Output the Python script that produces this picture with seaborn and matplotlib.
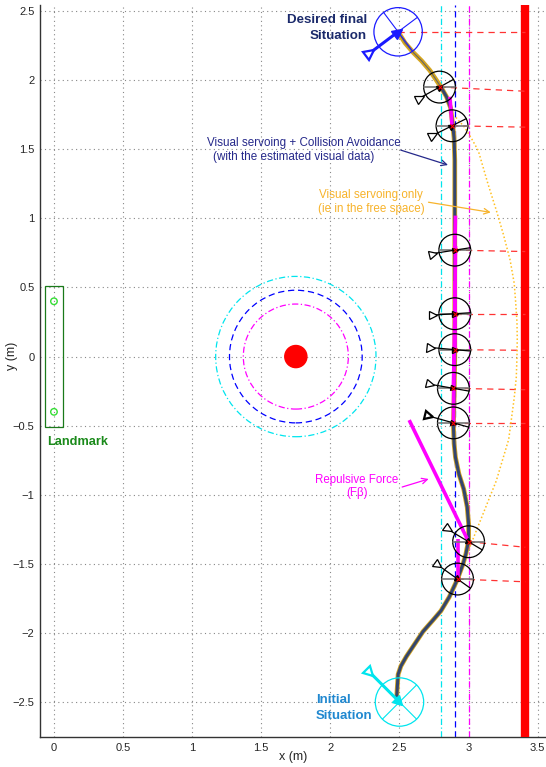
import matplotlib
matplotlib.use("Agg")
import matplotlib.pyplot as plt
from matplotlib.markers import MarkerStyle
from matplotlib.patches import Circle, Rectangle
from matplotlib.ticker import MultipleLocator, FuncFormatter
import numpy as np
import seaborn as sns

# robot path, visual servoing + collision avoidance
traj_x = [2.48, 2.485, 2.49, 2.51, 2.55, 2.61, 2.67, 2.74, 2.80, 2.86, 2.92, 2.96, 2.98, 3.00,
          3.00, 2.99, 2.965, 2.93, 2.905, 2.895, 2.89, 2.895, 2.90, 2.90, 2.90, 2.90, 2.90,
          2.895, 2.885, 2.87, 2.84, 2.80, 2.76, 2.72, 2.66, 2.60, 2.54, 2.49]
traj_y = [-2.46, -2.38, -2.30, -2.24, -2.17, -2.08, -1.99, -1.91, -1.84, -1.74, -1.61, -1.50, -1.43, -1.33,
          -1.21, -1.09, -0.96, -0.85, -0.73, -0.63, -0.50, -0.30, 0.0, 0.5, 1.0, 1.25, 1.42,
          1.58, 1.68, 1.80, 1.88, 1.95, 2.01, 2.07, 2.14, 2.20, 2.27, 2.35]

# visual servoing only (free space)
vs_x = [3.00, 3.04, 3.08, 3.12, 3.16, 3.20, 3.23, 3.26, 3.29, 3.31, 3.33, 3.345, 3.35,
        3.352, 3.35, 3.34, 3.33, 3.30, 3.25, 3.20, 3.14, 3.07, 3.02, 2.97, 2.90]
vs_y = [-1.40, -1.30, -1.20, -1.10, -1.00, -0.90, -0.80, -0.70, -0.60, -0.45, -0.30, -0.15, 0.0,
        0.13, 0.25, 0.40, 0.53, 0.70, 0.89, 1.06, 1.25, 1.49, 1.58, 1.66, 1.74]

# intermediate robot poses and camera direction ends
pose_x = [2.79, 2.88, 2.90, 2.90, 2.90, 2.89, 2.89, 3.00, 2.92]
pose_y = [1.95, 1.67, 0.77, 0.31, 0.05, -0.23, -0.48, -1.34, -1.61]
cam_x = [2.645, 2.74, 2.74, 2.74, 2.73, 2.72, 2.71, 2.85, 2.78]
cam_y = [1.87, 1.60, 0.745, 0.30, 0.065, -0.20, -0.43, -1.25, -1.51]
wall_hit_y = [1.92, 1.66, 0.76, 0.31, 0.045, -0.24, -0.48, -1.38, -1.63]

# repulsive force ends (nan = none drawn)
force_x = [np.nan, 2.865, 2.905, 2.905, 2.90, 2.90, 2.895, 2.57, 2.92]
force_y = [np.nan, 1.88, 1.02, 0.80, 0.55, 0.30, 0.05, -0.46, -1.32]

# initial / desired situation (center, camera end)
init_pose = (2.50, -2.50)
init_cam = (2.29, -2.29)
goal_pose = (2.49, 2.35)
goal_cam = (2.29, 2.20)

obstacle = (1.75, 0.0)
obstacle_r = 0.08
envelope_r = [0.38, 0.48, 0.58]
band_x = [2.8, 2.9, 3.0]
wall_x = 3.41
landmark_y = [0.4, -0.4]

robot_r = 0.115
big_r = 0.175

sns.set_style("white")
plt.rcParams['font.family'] = ['Liberation Sans', 'DejaVu Sans']

fig = plt.figure(figsize=(5.46, 7.67), dpi=100)
ax = fig.add_axes([40/546, 30/767, 506/546, 732/767])
ax.set_xlim(-0.101, 3.56)
ax.set_ylim(-2.753, 2.544)

fmt = FuncFormatter(lambda v, p: ('%g' % v).replace('-', '\u2212'))
ax.xaxis.set_major_locator(MultipleLocator(0.5))
ax.xaxis.set_minor_locator(MultipleLocator(0.25))
ax.yaxis.set_major_locator(MultipleLocator(0.5))
ax.yaxis.set_minor_locator(MultipleLocator(0.25))
ax.xaxis.set_major_formatter(fmt)
ax.yaxis.set_major_formatter(fmt)
ax.grid(True, which='major', linestyle=(0, (1, 3)), color='#888888', lw=0.8)
ax.tick_params(which='both', direction='in', color='black', labelsize=8, pad=4)
ax.tick_params(which='major', length=4, width=0.9)
ax.tick_params(which='minor', length=2.5, width=0.8)
ax.spines['top'].set_visible(False)
ax.spines['right'].set_visible(False)
for s in ['left', 'bottom']:
    ax.spines[s].set_color('#333333')
    ax.spines[s].set_linewidth(1.0)
ax.set_xlabel('x (m)', fontsize=9)
ax.set_ylabel('y (m)', fontsize=9)
ax.xaxis.set_label_coords(0.5, -0.027, transform=ax.transAxes)
ax.yaxis.set_label_coords(-0.055, 0.52, transform=ax.transAxes)
ax.xaxis.label.set_va('center')
ax.yaxis.label.set_va('center')

# wall and safety bands
ax.axvline(wall_x, color='#ff0000', lw=6, zorder=3)
ax.axvline(band_x[0], color='#00e5ee', lw=0.9, ls=(0, (5, 2, 1, 2)), zorder=2)
ax.axvline(band_x[1], color='#0000ff', lw=0.9, ls=(0, (5, 3)), zorder=2)
ax.axvline(band_x[2], color='#ff00ff', lw=0.9, ls=(0, (5, 2, 1, 2)), zorder=2)

# obstacle with its envelopes
ax.add_patch(Circle(obstacle, obstacle_r, color='#ff0000', zorder=3))
for r, c, ls in zip(envelope_r, ['#ff00ff', '#0000ff', '#00e5ee'],
                    [(0, (5, 2, 1, 2)), (0, (5, 3)), (0, (5, 2, 1, 2))]):
    ax.add_patch(Circle(obstacle, r, fill=False, ec=c, lw=0.9, ls=ls, zorder=3))

# landmark
ax.add_patch(Rectangle((-0.065, -0.51), 0.13, 1.02, fill=False, ec='#1a7a1a', lw=0.9, zorder=3))
sns.scatterplot(x=[0.0, 0.0], y=landmark_y, ax=ax, marker='o', s=22,
                facecolor='none', edgecolor='#33dd33', linewidth=1.0, zorder=4)
ax.text(-0.05, -0.618, 'Landmark', color='#1a8a1a', fontsize=9.2, fontweight='bold',
        ha='left', va='center')

# red dashed distances to the wall
ax.plot([goal_pose[0], wall_x], [goal_pose[1], goal_pose[1]], color='#ff3333',
        lw=0.9, ls=(0, (5, 4)), zorder=3)
for px, py, wy in zip(pose_x, pose_y, wall_hit_y):
    ax.plot([px, wall_x], [py, wy], color='#ff3333', lw=0.9, ls=(0, (5, 4)), zorder=3)

# visual servoing only path
sns.lineplot(x=vs_x, y=vs_y, ax=ax, sort=False, estimator=None, color='#ffc020',
             lw=1.1, ls=(0, (1, 1.5)), zorder=4)

# trajectory
sns.lineplot(x=traj_x, y=traj_y, ax=ax, sort=False, estimator=None, color='#d4a520',
             lw=3.4, zorder=5)
top = traj_y.index(1.95)
sns.lineplot(x=traj_x[:top + 1], y=traj_y[:top + 1], ax=ax, sort=False, estimator=None,
             color='#34466e', lw=2.2, zorder=6)
sns.lineplot(x=traj_x[top:], y=traj_y[top:], ax=ax, sort=False, estimator=None,
             color='#666666', lw=0.8, zorder=6)

# repulsive forces
for px, py, fx, fy in zip(pose_x, pose_y, force_x, force_y):
    if np.isnan(fx):
        continue
    ax.plot([px, fx], [py, fy], color='#ff00ff', lw=2.6, zorder=7, solid_capstyle='butt')


def tri(angle):
    return MarkerStyle('>').rotated(deg=angle)


# intermediate poses
for i, (px, py, cx, cy) in enumerate(zip(pose_x, pose_y, cam_x, cam_y)):
    ax.add_patch(Circle((px, py), robot_r, fill=False, ec='black', lw=0.9, zorder=8))
    ax.plot([px - robot_r, px + robot_r], [py, py], color='#777777', lw=1.2, zorder=8)
    ang = np.arctan2(py - cy, px - cx)
    ex, ey = px + robot_r * np.cos(ang), py + robot_r * np.sin(ang)
    ax.plot([cx, ex], [cy, ey], color='black', lw=0.9, zorder=9)
    mw = 1.6 if i == 6 else 0.9
    ax.plot(cx, cy, marker=tri(np.degrees(ang)), ms=6, mfc='white', mec='black',
            mew=mw, zorder=10)
    ax.plot(px, py, marker=tri(np.degrees(ang)), ms=4, color='black', zorder=10)
    ax.plot(px, py, marker='x', ms=3, color='#ff0000', mew=0.8, zorder=11)

# desired and initial situations
for (px, py), (cx, cy), col in [(goal_pose, goal_cam, '#1a1aff'), (init_pose, init_cam, '#00e5ee')]:
    ax.add_patch(Circle((px, py), big_r, fill=False, ec=col, lw=0.9, zorder=8))
    ang = np.arctan2(py - cy, px - cx)
    perp = ang + np.pi / 2
    ax.plot([px - big_r * np.cos(perp), px + big_r * np.cos(perp)],
            [py - big_r * np.sin(perp), py + big_r * np.sin(perp)], color=col, lw=0.8, zorder=8)
    ax.plot([px, px + big_r * np.cos(ang)], [py, py + big_r * np.sin(ang)],
            color=col, lw=0.8, zorder=8)
    ax.plot([px, cx], [py, cy], color=col, lw=2.2, zorder=9)
    ax.plot(cx, cy, marker=tri(np.degrees(ang)), ms=7, mfc='white', mec=col, mew=1.6, zorder=10)
    ax.plot(px, py, marker=tri(np.degrees(ang)), ms=7, color=col, zorder=10)

navy = '#1b2a6b'
ax.text(2.265, 2.436, 'Desired final', color=navy, fontsize=9.6, fontweight='bold',
        ha='right', va='center')
ax.text(2.265, 2.32, 'Situation', color=navy, fontsize=9.6, fontweight='bold',
        ha='right', va='center')
ax.text(1.896, -2.485, 'Initial', color='#2088d0', fontsize=9.5, fontweight='bold',
        ha='left', va='center')
ax.text(1.896, -2.60, 'Situation', color='#2088d0', fontsize=9.5, fontweight='bold',
        ha='left', va='center')

ca_col = '#25288a'
ax.text(1.107, 1.545, 'Visual servoing + Collision Avoidance', color=ca_col, fontsize=8.4,
        ha='left', va='center')
ax.text(1.15, 1.443, '(with the estimated visual data)', color=ca_col, fontsize=8.4,
        ha='left', va='center')
ax.annotate('', xy=(2.87, 1.38), xytext=(2.49, 1.50),
            arrowprops=dict(arrowstyle='->', color=ca_col, lw=0.9), zorder=12)

vs_col = '#f7b32b'
ax.text(2.294, 1.17, 'Visual servoing only', color=vs_col, fontsize=8.4, ha='center', va='center')
ax.text(2.294, 1.07, '(ie in the free space)', color=vs_col, fontsize=8.4, ha='center', va='center')
ax.annotate('', xy=(3.18, 1.04), xytext=(2.69, 1.12),
            arrowprops=dict(arrowstyle='->', color=vs_col, lw=0.9), zorder=12)

ax.text(2.19, -0.893, 'Repulsive Force', color='#ff00ff', fontsize=8.3, ha='center', va='center')
ax.text(2.19, -0.99, '(Fβ)', color='#ff00ff', fontsize=8.3, ha='center', va='center')
ax.annotate('', xy=(2.73, -0.88), xytext=(2.50, -0.95),
            arrowprops=dict(arrowstyle='->', color='#ff00ff', lw=0.9), zorder=12)

fig.savefig('out.png', dpi=100)
